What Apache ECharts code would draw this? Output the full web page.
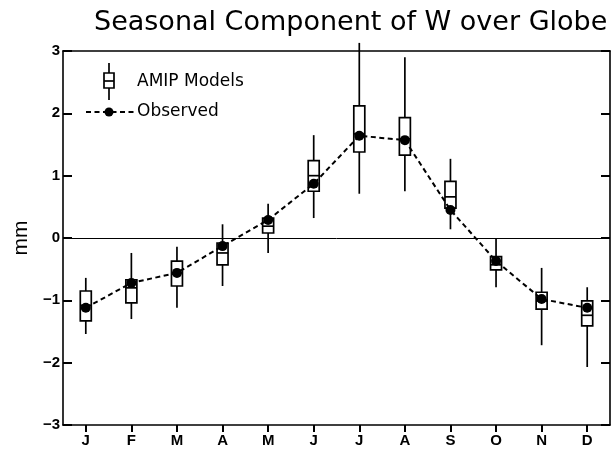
<!DOCTYPE html>
<html><head><meta charset="utf-8">
<script src="https://cdn.jsdelivr.net/npm/echarts@6/dist/echarts.min.js"></script>
<style>html,body{margin:0;padding:0;background:#fff}#c{width:616px;height:457px}</style>
</head><body><div id="c"></div>
<script>
var months = ['J','F','M','A','M','J','J','A','S','O','N','D'];
var yTicks = [-3,-2,-1,0,1,2,3];
// AMIP models box stats: [min, q1, median, q3, max]
var modelMin = [-1.54,-1.30,-1.12,-0.77,-0.24,0.32,0.71,0.75,0.14,-0.79,-1.72,-2.07];
var modelQ1  = [-1.33,-1.04,-0.77,-0.43,0.08,0.75,1.38,1.33,0.48,-0.51,-1.14,-1.41];
var modelMed = [-1.08,-0.80,-0.56,-0.24,0.19,1.00,1.67,1.59,0.66,-0.43,-1.01,-1.24];
var modelQ3  = [-0.85,-0.67,-0.37,-0.08,0.32,1.24,2.12,1.93,0.91,-0.30,-0.87,-1.01];
var modelMax = [-0.64,-0.24,-0.14,0.22,0.55,1.65,3.13,2.90,1.27,0.00,-0.48,-0.79];
var observed = [-1.12,-0.72,-0.56,-0.13,0.29,0.87,1.64,1.57,0.45,-0.37,-0.98,-1.12];

var boxData = months.map(function(m,i){return [i, modelMin[i], modelQ1[i], modelMed[i], modelQ3[i], modelMax[i]];});

var chart = echarts.init(document.getElementById('c'), null, {renderer:'canvas'});
var fmt = function(v){ return String(v).replace('-', '\u2212'); };
var frameLine = {show:true, onZero:false, lineStyle:{color:'#000', width:1.6}};
chart.setOption({
  animation:false,
  title:{text:'Seasonal Component of W over Globe', left:89, top:4,
    textStyle:{fontFamily:'DejaVu Sans', fontWeight:'normal', fontSize:27, color:'#000'}},
  grid:{left:63, right:6, top:51, bottom:32},
  xAxis:[{type:'category', data:months, boundaryGap:true, position:'bottom',
    axisLine:frameLine,
    axisTick:{show:true, alignWithLabel:true, inside:false, length:7, lineStyle:{color:'#000', width:2}},
    axisLabel:{color:'#000', fontFamily:'Liberation Sans', fontWeight:'bold', fontSize:15, margin:8},
    splitLine:{show:false}},
    {type:'category', data:months, boundaryGap:true, position:'top',
    axisLine:frameLine, axisTick:{show:false}, axisLabel:{show:false}, splitLine:{show:false}}],
  yAxis:[{type:'value', min:-3, max:3, interval:1, name:'mm', nameLocation:'middle', nameGap:29, nameRotate:90,
    nameTextStyle:{color:'#000', fontFamily:'Liberation Sans', fontSize:21},
    axisLine:frameLine,
    axisTick:{show:true, inside:true, length:9, lineStyle:{color:'#000', width:2}},
    axisLabel:{color:'#000', fontFamily:'Liberation Sans', fontWeight:'bold', fontSize:15, margin:3, formatter:fmt},
    splitLine:{show:false}},
    {type:'value', min:-3, max:3, interval:1, position:'right',
    axisLine:frameLine,
    axisTick:{show:true, inside:true, length:9, lineStyle:{color:'#000', width:2}},
    axisLabel:{show:false}, splitLine:{show:false}}],
  series:[
    {type:'custom', data:boxData, z:3,
      encode:{x:0, y:[1,2,3,4,5]},
      renderItem:function(params, api){
        var i = api.value(0);
        var pMin = api.coord([i, api.value(1)]);
        var pQ1 = api.coord([i, api.value(2)]);
        var pMed = api.coord([i, api.value(3)]);
        var pQ3 = api.coord([i, api.value(4)]);
        var pMax = api.coord([i, api.value(5)]);
        var x = pMin[0], hw = 5.5;
        var st = {stroke:'#000', lineWidth:1.7, fill:'none'};
        return {type:'group', children:[
          {type:'line', shape:{x1:x, y1:pMax[1], x2:x, y2:pQ3[1]}, style:st},
          {type:'line', shape:{x1:x, y1:pQ1[1], x2:x, y2:pMin[1]}, style:st},
          {type:'rect', shape:{x:x-hw, y:pQ3[1], width:2*hw, height:pQ1[1]-pQ3[1]}, style:{stroke:'#000', lineWidth:1.7, fill:'#fff'}},
          {type:'line', shape:{x1:x-hw, y1:pMed[1], x2:x+hw, y2:pMed[1]}, style:st}
        ]};
      }},
    {type:'line', data:observed, z:5, symbol:'circle', symbolSize:10,
      itemStyle:{color:'#000'}, lineStyle:{color:'#000', width:2, type:[5,3.5]},
      markLine:{silent:true, symbol:'none', label:{show:false}, z:1,
        lineStyle:{color:'#000', width:1, type:'solid'}, data:[{yAxis:0}]}}
  ],
  graphic:[
    {type:'line', shape:{x1:109, y1:63, x2:109, y2:100}, style:{stroke:'#000', lineWidth:1.7}},
    {type:'rect', shape:{x:104, y:73, width:10, height:15}, style:{stroke:'#000', lineWidth:1.7, fill:'#fff'}},
    {type:'line', shape:{x1:104, y1:81, x2:114, y2:81}, style:{stroke:'#000', lineWidth:1.7}},
    {type:'text', x:137, y:82, style:{text:'AMIP Models', fill:'#000', font:'17px "DejaVu Sans"', textVerticalAlign:'middle'}},
    {type:'line', shape:{x1:86, y1:112, x2:134, y2:112}, style:{stroke:'#000', lineWidth:2, lineDash:[5,3.5]}},
    {type:'circle', shape:{cx:109, cy:112, r:4.5}, style:{fill:'#000'}},
    {type:'text', x:137, y:112, style:{text:'Observed', fill:'#000', font:'17px "DejaVu Sans"', textVerticalAlign:'middle'}}
  ]
});
</script></body></html>
